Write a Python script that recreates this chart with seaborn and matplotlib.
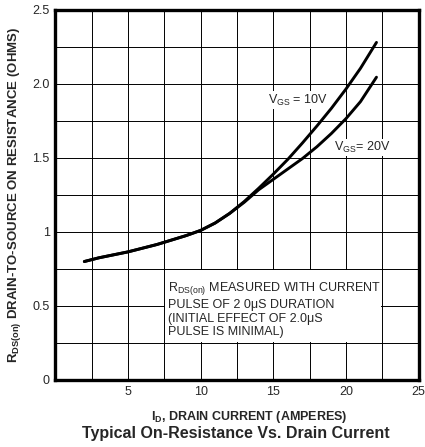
import matplotlib
matplotlib.use("Agg")
import numpy as np
import pandas as pd
import matplotlib.pyplot as plt
from matplotlib.patches import Rectangle
import seaborn as sns

# valores (I_D en A, R_DS(on) en ohm)
id_10v = [2, 3, 4, 5, 6, 7, 8, 9, 10, 11, 12, 13, 14, 15, 16, 17, 18, 19, 20, 21, 22.1]
rds_10v = [0.80, 0.825, 0.845, 0.865, 0.89, 0.915, 0.945, 0.975, 1.01, 1.06, 1.125,
           1.205, 1.295, 1.39, 1.49, 1.60, 1.715, 1.835, 1.965, 2.105, 2.28]
id_20v = [2, 3, 4, 5, 6, 7, 8, 9, 10, 11, 12, 13, 14, 15, 16, 17, 18, 19, 20, 21, 22.1]
rds_20v = [0.80, 0.825, 0.845, 0.865, 0.89, 0.915, 0.945, 0.975, 1.01, 1.06, 1.125,
           1.20, 1.285, 1.355, 1.425, 1.495, 1.575, 1.665, 1.765, 1.88, 2.045]

x_ticks = [5, 10, 15, 20, 25]
y_ticks = [0, 0.5, 1, 1.5, 2.0, 2.5]
y_tick_labels = ["0", "0.5", "1", "1.5", "2.0", "2.5"]

df = pd.concat([
    pd.DataFrame({"id": id_10v, "rds": rds_10v, "vgs": "10V"}),
    pd.DataFrame({"id": id_20v, "rds": rds_20v, "vgs": "20V"}),
])

sns.set_style("white")
plt.rcParams["font.family"] = ["Liberation Sans", "DejaVu Sans"]
plt.rcParams["mathtext.fontset"] = "custom"
plt.rcParams["mathtext.rm"] = "Liberation Sans"
plt.rcParams["mathtext.bf"] = "Liberation Sans:bold"

fig = plt.figure(figsize=(4.25, 4.47), dpi=100)
ax = fig.add_axes([0.130, 0.150, 0.855, 0.828])

sns.lineplot(data=df, x="id", y="rds", hue="vgs", palette=["black", "black"],
             linewidth=2.1, legend=False, ax=ax, zorder=3)

ax.set_xlim(0, 25)
ax.set_ylim(0, 2.5)
ax.set_xticks(np.arange(0, 25.1, 2.5), minor=True)
ax.set_yticks(np.arange(0, 2.51, 0.25), minor=True)
ax.set_xticks(x_ticks)
ax.set_yticks(y_ticks)
ax.set_yticklabels(y_tick_labels)
ax.set_axisbelow(True)
ax.grid(True, which="both", color="black", linewidth=0.7)
ax.tick_params(which="both", length=0, labelsize=9, pad=4)
for s in ax.spines.values():
    s.set_linewidth(2.4)
    s.set_color("black")

# zona blanca de la nota
ax.add_patch(Rectangle((7.56, 0.258), 14.88, 0.484, facecolor="white",
                       edgecolor="none", zorder=1))

lbl_box = dict(facecolor="white", edgecolor="none", pad=1)
ax.text(14.66, 1.89, r"V$_{\mathregular{GS}}$ = 10V", fontsize=9, va="center",
        bbox=lbl_box, zorder=2)
ax.text(19.2, 1.57, r"V$_{\mathregular{GS}}$= 20V", fontsize=9, va="center",
        bbox=lbl_box, zorder=2)

ax.text(7.75, 0.28,
        "R$_{\\mathregular{DS(on)}}$ MEASURED WITH CURRENT\n"
        "PULSE OF 2 0\u03bcS DURATION\n"
        "(INITIAL EFFECT OF 2.0\u03bcS\n"
        "PULSE IS MINIMAL)",
        fontsize=9, linespacing=1.2, va="bottom", ha="left", zorder=4)

ax.set_xlabel("")
fig.text(0.586, 0.066, r"I$_{\mathregular{D}}$, DRAIN CURRENT (AMPERES)",
         fontsize=9, fontweight="bold", ha="center", va="center")
ax.set_ylabel(r"R$_{\mathregular{DS(on)}}$ DRAIN-TO-SOURCE ON RESISTANCE (OHMS)",
              fontsize=9.5, fontweight="bold", labelpad=7)
fig.text(0.555, 0.030, "Typical On-Resistance Vs. Drain Current", ha="center",
         va="center", fontsize=11.5, fontweight="bold")

fig.savefig("out.png", dpi=100)
